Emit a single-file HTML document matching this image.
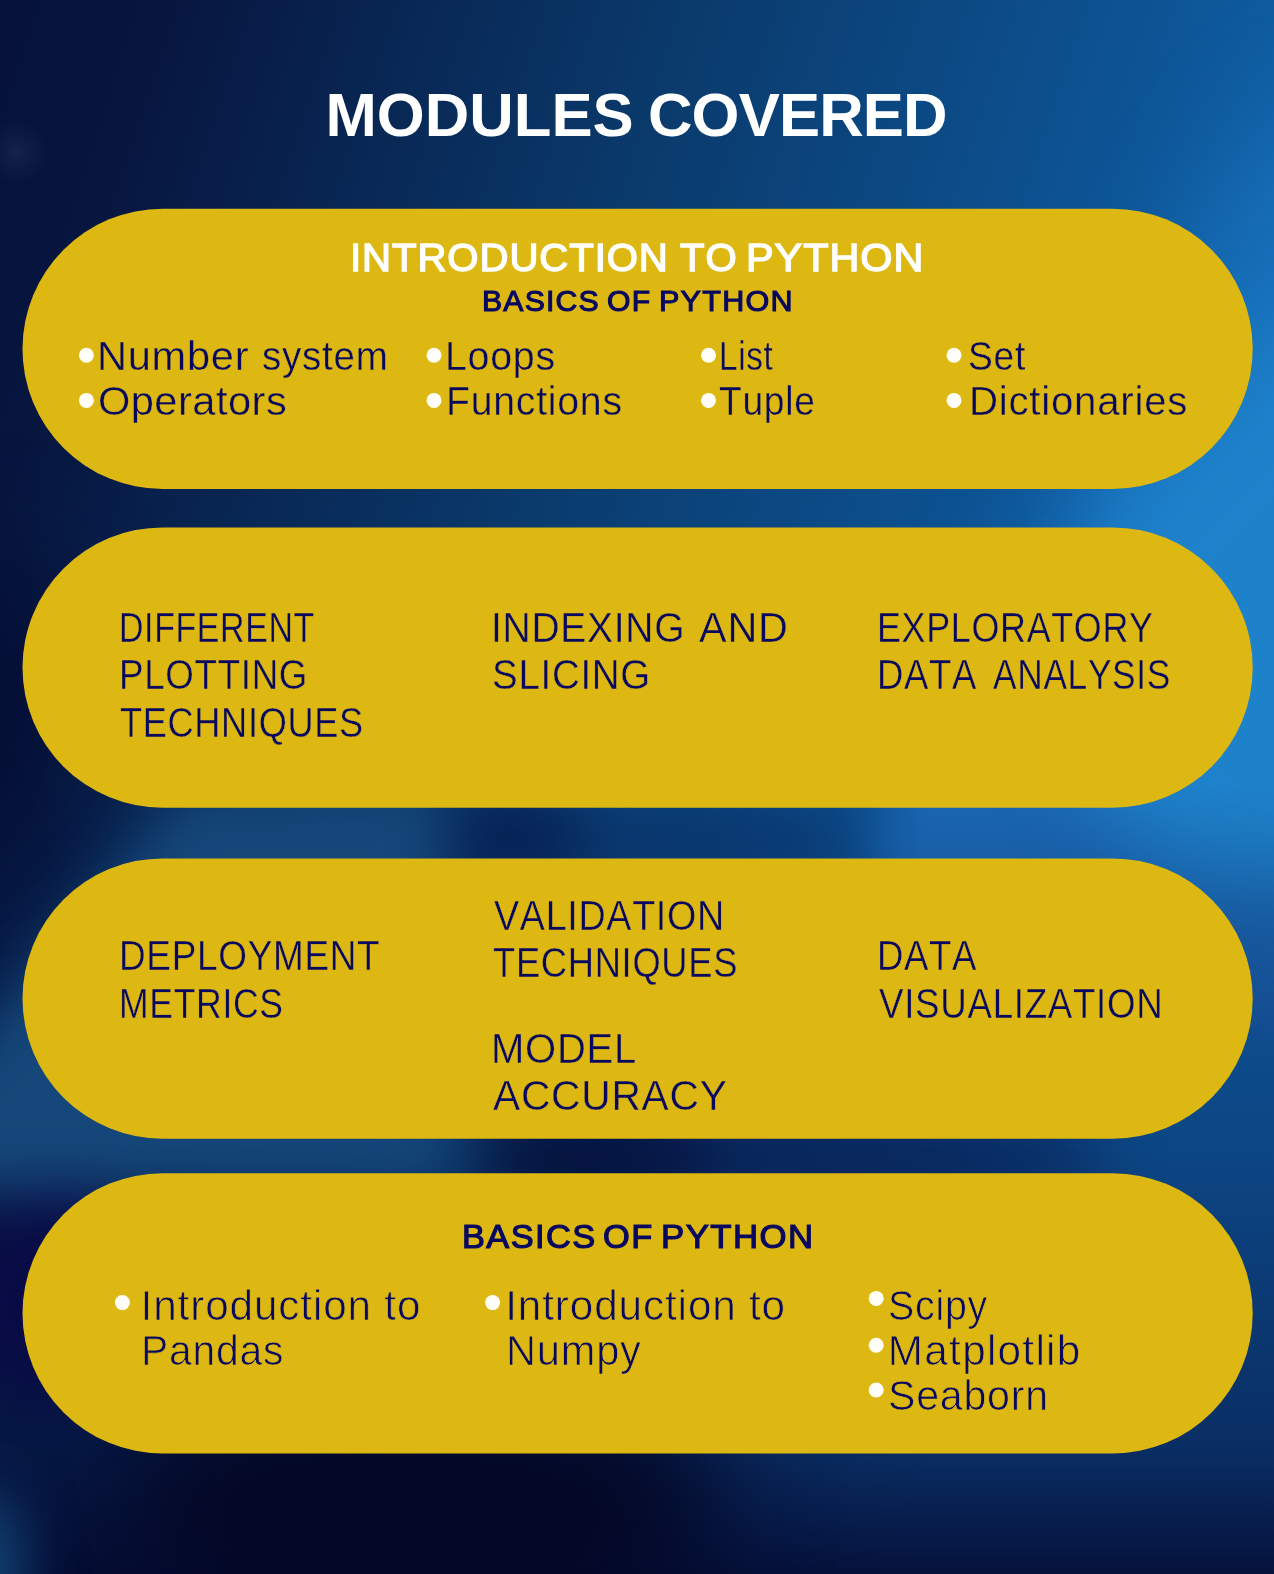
<!DOCTYPE html>
<html lang="en"><head><meta charset="utf-8"><title>Modules Covered</title>
<style>
html,body{margin:0;padding:0;background:#06103f;}
body{width:1274px;height:1574px;position:relative;overflow:hidden;font-family:"Liberation Sans",sans-serif;}
svg.bg{position:absolute;left:0;top:0;display:block}
.t{position:absolute;left:0;white-space:pre;font-kerning:none;font-variant-ligatures:none;line-height:1;margin:0;padding:0;color:#08085f}
.t span{position:absolute;top:0;transform-origin:0 50%}
h1,h2,h3,p,ul,li{margin:0;padding:0;font-weight:normal;list-style:none}
</style></head><body>
<svg class="bg" width="1274" height="1574" viewBox="0 0 1274 1574">
<defs>
<linearGradient id="g0" gradientUnits="userSpaceOnUse" x1="0" y1="0" x2="1274" y2="420">
<stop offset="0" stop-color="#06123a"/><stop offset="0.12" stop-color="#07163f"/><stop offset="0.5" stop-color="#0a3b6d"/><stop offset="0.8" stop-color="#0d5292"/><stop offset="1" stop-color="#1064ac"/></linearGradient>
<linearGradient id="gv" gradientUnits="userSpaceOnUse" x1="0" y1="700" x2="0" y2="1574">
<stop offset="0.09" stop-color="#050a33" stop-opacity="0"/><stop offset="0.23" stop-color="#050a33" stop-opacity="0.15"/><stop offset="0.34" stop-color="#050a33" stop-opacity="0.25"/><stop offset="0.515" stop-color="#050a33" stop-opacity="0.33"/><stop offset="0.686" stop-color="#050a33" stop-opacity="0.47"/><stop offset="0.858" stop-color="#050a33" stop-opacity="0.6"/><stop offset="1" stop-color="#04082e" stop-opacity="0.9"/></linearGradient>
<filter id="b22" color-interpolation-filters="sRGB" filterUnits="userSpaceOnUse" x="-300" y="-300" width="1900" height="2200"><feGaussianBlur stdDeviation="22"/></filter>
<filter id="b28" color-interpolation-filters="sRGB" filterUnits="userSpaceOnUse" x="-300" y="-300" width="1900" height="2200"><feGaussianBlur stdDeviation="28"/></filter>
<filter id="b40" color-interpolation-filters="sRGB" filterUnits="userSpaceOnUse" x="-300" y="-300" width="1900" height="2200"><feGaussianBlur stdDeviation="40"/></filter>
<filter id="b55" color-interpolation-filters="sRGB" filterUnits="userSpaceOnUse" x="-300" y="-300" width="1900" height="2200"><feGaussianBlur stdDeviation="55"/></filter>
<radialGradient id="fl" gradientUnits="userSpaceOnUse" cx="16" cy="152" r="34"><stop offset="0" stop-color="#8fa3c8" stop-opacity="0.10"/><stop offset="1" stop-color="#8fa3c8" stop-opacity="0"/></radialGradient>
</defs>
<rect width="1274" height="1574" fill="url(#g0)"/>
<g filter="url(#b55)">
<path d="M1500 20 L1270 140 L1150 340 L1080 500 L1010 640 L1100 800 L1500 900 Z" fill="#1870ba"/>
</g>
<g filter="url(#b22)">
<path d="M1500 560 L1050 560 L905 765 L872 850 L905 930 L1100 1010 L1500 1060 Z" fill="#1b68b4"/>
</g>
<g filter="url(#b40)">
<path d="M1500 240 L1295 320 L1200 420 L1110 510 L1075 640 L1085 780 L1170 875 L1500 915 Z" fill="#1e82cb"/>
</g>
<rect width="1274" height="1574" fill="url(#gv)"/>
<g filter="url(#b55)">
<ellipse cx="420" cy="1500" rx="300" ry="150" fill="#030524" opacity="0.9"/>
<ellipse cx="-10" cy="720" rx="80" ry="170" fill="#040a30" opacity="0.8"/>
</g>
<g filter="url(#b28)">
<ellipse cx="600" cy="1158" rx="120" ry="50" fill="#061038" opacity="0.9"/>
<ellipse cx="850" cy="1160" rx="260" ry="45" fill="#071648" opacity="0.6"/>
<ellipse cx="510" cy="838" rx="80" ry="45" fill="#061a4e" opacity="0.8"/>
<ellipse cx="720" cy="838" rx="140" ry="40" fill="#08285e" opacity="0.5"/>
<path d="M185 790 L445 790 L455 1185 L-60 1190 L-60 1080 Z" fill="#15477a"/>
<ellipse cx="60" cy="1300" rx="110" ry="105" fill="#0a0b46" opacity="0.95"/>
<ellipse cx="-22" cy="1568" rx="48" ry="80" fill="#134375"/>
</g>
<circle cx="16" cy="152" r="34" fill="url(#fl)"/>

<rect x="22.5" y="208.7" width="1230.2" height="280.3" rx="140.15" ry="140.15" fill="#deb812"/>
<rect x="22.5" y="527.4" width="1230.2" height="280.3" rx="140.15" ry="140.15" fill="#deb812"/>
<rect x="22.5" y="858.4" width="1230.2" height="280.3" rx="140.15" ry="140.15" fill="#deb812"/>
<rect x="22.5" y="1173.2" width="1230.2" height="280.3" rx="140.15" ry="140.15" fill="#deb812"/>
<circle cx="86.4" cy="355.3" r="7.5" fill="#fffef8"/>
<circle cx="86.4" cy="400.4" r="7.5" fill="#fffef8"/>
<circle cx="434.0" cy="355.3" r="7.5" fill="#fffef8"/>
<circle cx="434.0" cy="400.4" r="7.5" fill="#fffef8"/>
<circle cx="708.5" cy="355.3" r="7.5" fill="#fffef8"/>
<circle cx="708.5" cy="400.4" r="7.5" fill="#fffef8"/>
<circle cx="954.0" cy="355.3" r="7.5" fill="#fffef8"/>
<circle cx="954.0" cy="400.4" r="7.5" fill="#fffef8"/>
<circle cx="122.4" cy="1302.6" r="7.5" fill="#fffef8"/>
<circle cx="492.6" cy="1302.6" r="7.5" fill="#fffef8"/>
<circle cx="876.2" cy="1298.4" r="7.5" fill="#fffef8"/>
<circle cx="876.2" cy="1345.2" r="7.5" fill="#fffef8"/>
<circle cx="876.2" cy="1390.0" r="7.5" fill="#fffef8"/>
</svg>
<header><h1 class="t" style="top:84.02px;font-size:61.63px;color:#fff;font-weight:bold;"><span style="left:325.48px;letter-spacing:0.014px;">MODULES</span> <span style="left:647.97px;letter-spacing:-0.860px;">COVERED</span></h1></header>
<main>
<section>
<h2 class="t" style="top:238.20px;font-size:39.10px;color:#fff;-webkit-text-stroke:1.40px #fff;"><span style="left:350.41px;letter-spacing:0.900px;transform:scaleX(1.0271);">INTRODUCTION</span> <span style="left:679.86px;letter-spacing:0.900px;transform:scaleX(1.0271);">TO</span> <span style="left:746.14px;letter-spacing:0.900px;transform:scaleX(1.0595);">PYTHON</span></h2>
<h3 class="t" style="top:285.54px;font-size:29.65px;-webkit-text-stroke:1.10px #08085f;"><span style="left:481.69px;letter-spacing:1.200px;transform:scaleX(1.0172);">BASICS</span> <span style="left:607.09px;letter-spacing:1.200px;transform:scaleX(1.0172);">OF</span> <span style="left:658.86px;letter-spacing:1.200px;transform:scaleX(1.0309);">PYTHON</span></h3>
<ul>
<li><div class="t" style="top:334.70px;font-size:41.57px;-webkit-text-stroke:0.40px #deb812;"><span style="left:96.99px;letter-spacing:0.750px;">Number</span> <span style="left:261.94px;letter-spacing:0.800px;transform:scaleX(0.9280);">system</span></div></li>
<li><div class="t" style="top:379.70px;font-size:41.57px;-webkit-text-stroke:0.40px #deb812;"><span style="left:97.93px;letter-spacing:0.492px;">Operators</span></div></li>
<li><div class="t" style="top:334.70px;font-size:41.57px;-webkit-text-stroke:0.40px #deb812;"><span style="left:445.49px;letter-spacing:0.800px;transform:scaleX(0.9456);">Loops</span></div></li>
<li><div class="t" style="top:379.70px;font-size:41.57px;-webkit-text-stroke:0.40px #deb812;"><span style="left:445.60px;letter-spacing:0.800px;transform:scaleX(0.9431);">Functions</span></div></li>
<li><div class="t" style="top:334.70px;font-size:41.57px;-webkit-text-stroke:0.40px #deb812;"><span style="left:718.71px;letter-spacing:0.800px;transform:scaleX(0.8003);">List</span></div></li>
<li><div class="t" style="top:379.70px;font-size:41.57px;-webkit-text-stroke:0.40px #deb812;"><span style="left:718.99px;letter-spacing:0.800px;transform:scaleX(0.8942);">Tuple</span></div></li>
<li><div class="t" style="top:334.70px;font-size:41.57px;-webkit-text-stroke:0.40px #deb812;"><span style="left:967.53px;letter-spacing:0.800px;transform:scaleX(0.8941);">Set</span></div></li>
<li><div class="t" style="top:379.70px;font-size:41.57px;-webkit-text-stroke:0.40px #deb812;"><span style="left:968.81px;letter-spacing:0.800px;transform:scaleX(0.9667);">Dictionaries</span></div></li>
</ul>
</section>
<section>
<article><p class="t" style="top:606.12px;font-size:42.73px;-webkit-text-stroke:0.40px #deb812;"><span style="left:118.86px;letter-spacing:0.800px;transform:scaleX(0.7933);">DIFFERENT</span></p><p class="t" style="top:653.32px;font-size:42.73px;-webkit-text-stroke:0.40px #deb812;"><span style="left:118.71px;letter-spacing:0.800px;transform:scaleX(0.8596);">PLOTTING</span></p><p class="t" style="top:700.52px;font-size:42.73px;-webkit-text-stroke:0.40px #deb812;"><span style="left:119.62px;letter-spacing:0.800px;transform:scaleX(0.8463);">TECHNIQUES</span></p></article>
<article><p class="t" style="top:606.12px;font-size:42.73px;-webkit-text-stroke:0.40px #deb812;"><span style="left:490.82px;letter-spacing:0.800px;transform:scaleX(0.9124);">INDEXING</span> <span style="left:698.93px;letter-spacing:0.800px;transform:scaleX(0.9687);">AND</span></p><p class="t" style="top:653.32px;font-size:42.73px;-webkit-text-stroke:0.40px #deb812;"><span style="left:492.37px;letter-spacing:0.800px;transform:scaleX(0.9005);">SLICING</span></p></article>
<article><p class="t" style="top:606.12px;font-size:42.73px;-webkit-text-stroke:0.40px #deb812;"><span style="left:877.19px;letter-spacing:0.800px;transform:scaleX(0.8402);">EXPLORATORY</span></p><p class="t" style="top:653.32px;font-size:42.73px;-webkit-text-stroke:0.40px #deb812;"><span style="left:877.13px;letter-spacing:0.800px;transform:scaleX(0.8542);">DATA</span> <span style="left:993.07px;letter-spacing:0.800px;transform:scaleX(0.8267);">ANALYSIS</span></p></article>
</section>
<section>
<article><p class="t" style="top:934.42px;font-size:42.73px;-webkit-text-stroke:0.40px #deb812;"><span style="left:118.60px;letter-spacing:0.800px;transform:scaleX(0.8644);">DEPLOYMENT</span></p><p class="t" style="top:981.52px;font-size:42.73px;-webkit-text-stroke:0.40px #deb812;"><span style="left:119.02px;letter-spacing:0.800px;transform:scaleX(0.8325);">METRICS</span></p></article>
<article><p class="t" style="top:894.22px;font-size:42.73px;-webkit-text-stroke:0.40px #deb812;"><span style="left:493.96px;letter-spacing:0.800px;transform:scaleX(0.8814);">VALIDATION</span></p><p class="t" style="top:941.42px;font-size:42.73px;-webkit-text-stroke:0.40px #deb812;"><span style="left:492.61px;letter-spacing:0.800px;transform:scaleX(0.8509);">TECHNIQUES</span></p></article>
<article><p class="t" style="top:1027.02px;font-size:42.73px;-webkit-text-stroke:0.40px #deb812;"><span style="left:491.43px;letter-spacing:0.800px;transform:scaleX(0.9357);">MODEL</span></p><p class="t" style="top:1074.22px;font-size:42.73px;-webkit-text-stroke:0.40px #deb812;"><span style="left:493.13px;letter-spacing:0.800px;transform:scaleX(0.9533);">ACCURACY</span></p></article>
<article><p class="t" style="top:934.42px;font-size:42.73px;-webkit-text-stroke:0.40px #deb812;"><span style="left:877.13px;letter-spacing:0.800px;transform:scaleX(0.8542);">DATA</span></p><p class="t" style="top:981.52px;font-size:42.73px;-webkit-text-stroke:0.40px #deb812;"><span style="left:879.07px;letter-spacing:0.800px;transform:scaleX(0.8596);">VISUALIZATION</span></p></article>
</section>
<section>
<h3 class="t" style="top:1219.77px;font-size:33.58px;-webkit-text-stroke:1.20px #08085f;"><span style="left:461.80px;letter-spacing:1.400px;transform:scaleX(1.0231);">BASICS</span> <span style="left:603.06px;letter-spacing:1.400px;transform:scaleX(1.0231);">OF</span> <span style="left:660.97px;letter-spacing:1.400px;transform:scaleX(1.0356);">PYTHON</span></h3>
<ul>
<li><div class="t" style="top:1284.92px;font-size:42.22px;-webkit-text-stroke:0.75px #deb812;"><span style="left:140.53px;letter-spacing:0.904px;">Introduction</span> <span style="left:384.26px;letter-spacing:0.904px;">to</span></div><div class="t" style="top:1329.72px;font-size:42.22px;-webkit-text-stroke:0.75px #deb812;"><span style="left:141.39px;letter-spacing:0.800px;transform:scaleX(0.9670);">Pandas</span></div></li>
<li><div class="t" style="top:1284.92px;font-size:42.22px;-webkit-text-stroke:0.75px #deb812;"><span style="left:505.13px;letter-spacing:0.913px;">Introduction</span> <span style="left:748.90px;letter-spacing:0.913px;">to</span></div><div class="t" style="top:1329.72px;font-size:42.22px;-webkit-text-stroke:0.75px #deb812;"><span style="left:505.52px;letter-spacing:0.800px;transform:scaleX(0.9853);">Numpy</span></div></li>
<li><div class="t" style="top:1284.92px;font-size:42.22px;-webkit-text-stroke:0.75px #deb812;"><span style="left:888.36px;letter-spacing:0.800px;transform:scaleX(0.9325);">Scipy</span></div></li>
<li><div class="t" style="top:1329.72px;font-size:42.22px;-webkit-text-stroke:0.75px #deb812;"><span style="left:887.86px;letter-spacing:1.297px;">Matplotlib</span></div></li>
<li><div class="t" style="top:1374.52px;font-size:42.22px;-webkit-text-stroke:0.75px #deb812;"><span style="left:888.27px;letter-spacing:0.800px;transform:scaleX(0.9734);">Seaborn</span></div></li>
</ul>
</section>
</main>
</body></html>
